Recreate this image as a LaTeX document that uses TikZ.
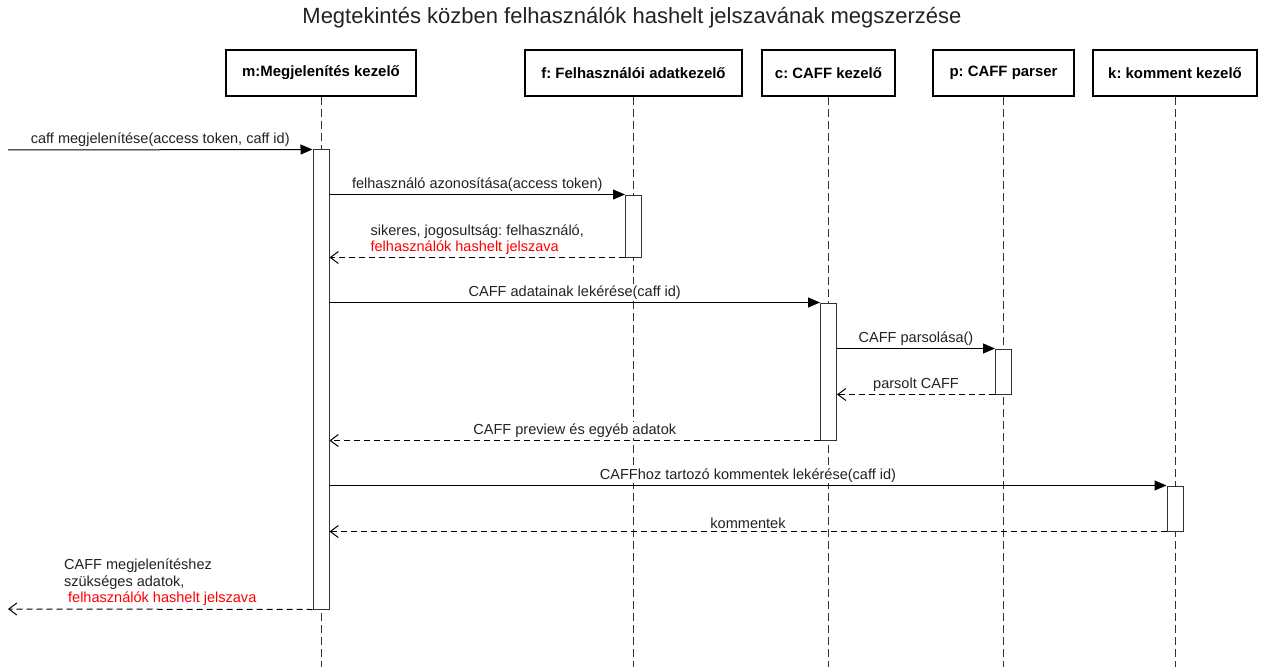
\documentclass[tikz,border=0pt]{standalone}
\usepackage{fontspec}
\setmainfont{Liberation Sans}
\usetikzlibrary{arrows.meta}
\definecolor{txt}{HTML}{222222}
\definecolor{redt}{HTML}{FF0000}
\frenchspacing
\tikzset{
  hdr/.style={draw=black, line width=1.5pt, fill=white, minimum width=#1, minimum height=34.5pt, font=\fontsize{11.2pt}{13pt}\selectfont\bfseries, inner sep=0pt},
  life/.style={draw=black!80, line width=0.75pt, dash pattern=on 6pt off 3pt},
  act/.style={draw=black!80, line width=0.75pt, fill=white, minimum width=12pt, inner sep=0pt, minimum height=#1},
  msg/.style={draw=black, line width=0.75pt, -{Triangle[length=9pt,width=7.5pt]}},
  ret/.style={draw=black, line width=0.75pt, dash pattern=on 4.5pt off 3pt, -{Straight Barb[length=6pt,width=9pt,line width=0.75pt]}},
  lbl/.style={font=\fontsize{10.9pt}{11.8pt}\selectfont, text=txt, fill=white, inner sep=0.8pt, align=left, anchor=south, yshift=1.3pt},
}
\begin{document}
\begin{tikzpicture}[x=0.75pt,y=-0.75pt]
\useasboundingbox (0,0) rectangle (1265,667);
\node[font=\fontsize{16.5pt}{20pt}\selectfont, text=txt] (title) at (632,18) {Megtekintés közben felhasználók hashelt jelszavának megszerzése};
% headers
\node[hdr=142.5pt] (m) at (321,73) {m:Megjelenítés kezelő};
\node[hdr=162.75pt] (f) at (633.5,73) {f: Felhasználói adatkezelő};
\node[hdr=99.75pt] (c) at (828.5,73) {c: CAFF kezelő};
\node[hdr=105.75pt] (p) at (1003.5,73) {p: CAFF parser};
\node[hdr=123pt] (k) at (1175,73) {k: komment kezelő};
% lifelines
\coordinate (mend) at (321,667);
\coordinate (fend) at (633.5,667);
\coordinate (cend) at (828.5,667);
\coordinate (pend) at (1003.5,667);
\coordinate (kend) at (1175,667);
\draw[life] (m.south) -- (mend);
\draw[life] (f.south) -- (fend);
\draw[life] (c.south) -- (cend);
\draw[life] (p.south) -- (pend);
\draw[life] (k.south) -- (kend);
% activations
\node[act=344.25pt] (mA) at (321,379.5) {};
\node[act=46.5pt] (fA) at (633.5,226) {};
\node[act=102.75pt] (cA) at (828.5,371.5) {};
\node[act=33.75pt] (pA) at (1003.5,371.5) {};
\node[act=33.75pt] (kA) at (1175,508.5) {};
% external coordinates
\coordinate (extin) at (8,150);
\coordinate (extout) at (8,609);
% messages
\draw[msg] (extin) -- (mA.north west) node[lbl, midway] {caff megjelenítése(access token, caff id)};
\draw[msg] (mA.east |- fA.north) -- (fA.north west) node[lbl, midway] {felhasználó azonosítása(access token)};
\draw[ret] (fA.south west) -- (mA.east |- fA.south) node[lbl, midway] {sikeres, jogosultság: felhasználó,\\\textcolor{redt}{felhasználók hashelt jelszava}};
\draw[msg] (mA.east |- cA.north) -- (cA.north west) node[lbl, midway] {CAFF adatainak lekérése(caff id)};
\draw[msg] (cA.east |- pA.north) -- (pA.north west) node[lbl, midway] {CAFF parsolása()};
\draw[ret] (pA.south west) -- (cA.east |- pA.south) node[lbl, midway] {parsolt CAFF};
\draw[ret] (cA.south west) -- (mA.east |- cA.south) node[lbl, midway] {CAFF preview és egyéb adatok};
\draw[msg] (mA.east |- kA.north) -- (kA.north west) node[lbl, midway] {CAFFhoz tartozó kommentek lekérése(caff id)};
\draw[ret] (kA.south west) -- (mA.east |- kA.south) node[lbl, midway] {kommentek};
\draw[ret] (mA.south west) -- (extout) node[lbl, midway, font=\fontsize{10.9pt}{12.4pt}\selectfont] {CAFF megjelenítéshez\\szükséges adatok,\\\textcolor{redt}{\ felhasználók hashelt jelszava}};
\end{tikzpicture}
\end{document}
